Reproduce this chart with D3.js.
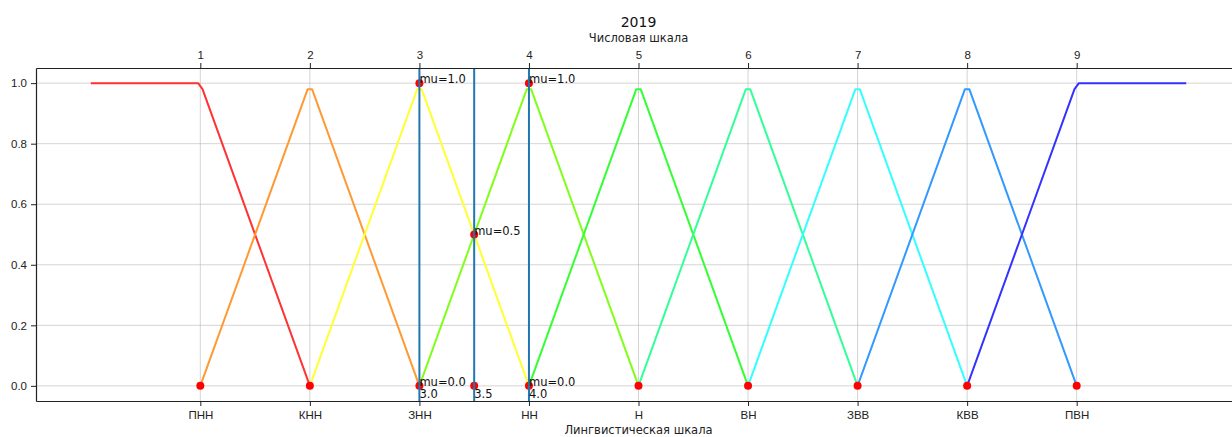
<!DOCTYPE html>
<html>
<head>
<meta charset="utf-8">
<script src="https://cdn.jsdelivr.net/npm/d3@7"></script>
<style>
  body { margin: 0; background: #fff; }
  svg { display: block; font-family: "DejaVu Sans", sans-serif; }
  .axis path, .axis line { stroke: #222; }
  .axis text { fill: #222; font-size: 11.5px; }
  .grid line { stroke: #b0b0b0; stroke-opacity: 0.55; }
</style>
</head>
<body>
<div id="chart"></div>
<script>
'use strict';

// linguistic terms (bottom axis) and numeric scale (top axis)
var termLabels = [ 'ПНН', 'КНН', 'ЗНН', 'НН', 'Н', 'ВН', 'ЗВВ', 'КВВ', 'ПВН' ];
var numTicks = [ 1, 2, 3, 4, 5, 6, 7, 8, 9 ];
var yTicks = [ 0, 0.2, 0.4, 0.6, 0.8, 1.0 ];

// membership function breakpoints, one list per term
var mfPnn = [ [0, 1], [0.98, 1], [1.02, 0.98], [2, 0] ];
var mfKnn = [ [1, 0], [1.98, 0.98], [2.02, 0.98], [3, 0] ];
var mfZnn = [ [2, 0], [2.98, 0.98], [3.02, 0.98], [4, 0] ];
var mfNn  = [ [3, 0], [3.98, 0.98], [4.02, 0.98], [5, 0] ];
var mfN   = [ [4, 0], [4.98, 0.98], [5.02, 0.98], [6, 0] ];
var mfVn  = [ [5, 0], [5.98, 0.98], [6.02, 0.98], [7, 0] ];
var mfZvv = [ [6, 0], [6.98, 0.98], [7.02, 0.98], [8, 0] ];
var mfKvv = [ [7, 0], [7.98, 0.98], [8.02, 0.98], [9, 0] ];
var mfPvn = [ [8, 0], [8.98, 0.98], [9.02, 1], [10, 1] ];
var mfColors = [ '#ff3333', '#ff9933', '#ffff33', '#80ff1a', '#33ff33',
                 '#33ff99', '#33ffff', '#3399ff', '#3333ff' ];

// red marker points
var markerPoints = [ [1, 0], [2, 0], [3, 0], [4, 0], [5, 0], [6, 0], [7, 0], [8, 0], [9, 0],
                     [3, 1], [4, 1], [3.5, 0.5], [3.5, 0] ];

// vertical marker lines
var vLines = [ 3, 3.5, 4 ];

// annotations
var notes = [
  { x: 3, y: 1, text: 'mu=1.0' },
  { x: 4, y: 1, text: 'mu=1.0' },
  { x: 3.5, y: 0.5, text: 'mu=0.5' },
  { x: 3, y: 0, text: 'mu=0.0' },
  { x: 4, y: 0, text: 'mu=0.0' },
  { x: 3, y: -0.04, text: '3.0' },
  { x: 3.5, y: -0.04, text: '3.5' },
  { x: 4, y: -0.04, text: '4.0' }
];

var baseWidth = 1232,
    baseHeight = 437,
    margin = { top: 68, left: 36 };

var width = 1205,
    height = 333;

var x = d3.scaleLinear().domain( [ -0.5, 10.5 ] ).range( [ 0, width ] );
var y = d3.scaleLinear().domain( [ -0.05, 1.05 ] ).range( [ height, 0 ] );

var svg = d3.select( '#chart' )
  .append( 'svg' )
    .attr( 'width', baseWidth )
    .attr( 'height', baseHeight );

var g = svg.append( 'g' )
    .attr( 'transform', 'translate(' + margin.left + ',' + margin.top + ')' );

// grid
g.append( 'g' )
    .classed( 'grid', true )
    .selectAll( 'line.h' )
    .data( yTicks )
    .enter().append( 'line' )
      .attr( 'x1', 0 ).attr( 'x2', width )
      .attr( 'y1', function( d ) { return y( d ); } )
      .attr( 'y2', function( d ) { return y( d ); } );

g.select( '.grid' )
    .selectAll( 'line.v' )
    .data( numTicks )
    .enter().append( 'line' )
      .attr( 'y1', 0 ).attr( 'y2', height )
      .attr( 'x1', function( d ) { return x( d ); } )
      .attr( 'x2', function( d ) { return x( d ); } );

// membership functions
var line = d3.line()
    .x( function( d ) { return x( d[0] ); } )
    .y( function( d ) { return y( d[1] ); } );

var mfs = [ mfPnn, mfKnn, mfZnn, mfNn, mfN, mfVn, mfZvv, mfKvv, mfPvn ];
mfs.forEach( function( pts, i ) {
  g.append( 'path' )
      .attr( 'd', line( pts ) )
      .attr( 'fill', 'none' )
      .attr( 'stroke', mfColors[i] )
      .attr( 'stroke-width', 2 )
      .attr( 'stroke-linejoin', 'round' );
} );

// markers
g.selectAll( 'circle.pt' )
  .data( markerPoints )
  .enter().append( 'circle' )
    .attr( 'cx', function( d ) { return x( d[0] ); } )
    .attr( 'cy', function( d ) { return y( d[1] ); } )
    .attr( 'r', 4 )
    .attr( 'fill', '#ff0000' );

// vertical lines
g.selectAll( 'line.vl' )
  .data( vLines )
  .enter().append( 'line' )
    .attr( 'x1', function( d ) { return x( d ); } )
    .attr( 'x2', function( d ) { return x( d ); } )
    .attr( 'y1', 0 ).attr( 'y2', height )
    .attr( 'stroke', '#1f77b4' )
    .attr( 'stroke-width', 2 );

// annotations
g.selectAll( 'text.note' )
  .data( notes )
  .enter().append( 'text' )
    .attr( 'x', function( d ) { return x( d.x ); } )
    .attr( 'y', function( d ) { return y( d.y ); } )
    .attr( 'font-size', '11.5px' )
    .attr( 'fill', '#111' )
    .text( function( d ) { return d.text; } );

// axes
g.append( 'g' )
    .classed( 'axis', true )
    .attr( 'transform', 'translate(0,' + height + ')' )
    .call( d3.axisBottom( x )
      .tickValues( numTicks )
      .tickSizeInner( 5 )
      .tickSizeOuter( 0 )
      .tickPadding( 5 )
      .tickFormat( function( d, i ) { return termLabels[i]; } ) );

g.append( 'g' )
    .classed( 'axis', true )
    .call( d3.axisTop( x )
      .tickValues( numTicks )
      .tickSizeInner( 5 )
      .tickSizeOuter( 0 )
      .tickPadding( 4 )
      .tickFormat( d3.format( 'd' ) ) );

g.append( 'g' )
    .classed( 'axis', true )
    .call( d3.axisLeft( y )
      .tickValues( yTicks )
      .tickSizeInner( 5 )
      .tickSizeOuter( 0 )
      .tickPadding( 4 )
      .tickFormat( d3.format( '.1f' ) ) );

g.append( 'line' )
    .attr( 'x1', width ).attr( 'x2', width )
    .attr( 'y1', 0 ).attr( 'y2', height )
    .attr( 'stroke', '#222' );

g.selectAll( '.axis .domain' ).attr( 'stroke-width', 1.2 );

// titles
var cx = width / 2;
g.append( 'text' )
    .attr( 'x', cx ).attr( 'y', -41 )
    .attr( 'text-anchor', 'middle' )
    .attr( 'font-size', '14px' )
    .attr( 'fill', '#111' )
    .text( '2019' );

g.append( 'text' )
    .attr( 'x', cx ).attr( 'y', -26 )
    .attr( 'text-anchor', 'middle' )
    .attr( 'font-size', '11.5px' )
    .attr( 'fill', '#222' )
    .text( 'Числовая шкала' );

g.append( 'text' )
    .attr( 'x', cx ).attr( 'y', height + 33 )
    .attr( 'text-anchor', 'middle' )
    .attr( 'font-size', '11.5px' )
    .attr( 'fill', '#222' )
    .text( 'Лингвистическая шкала' );
</script>
</body>
</html>
